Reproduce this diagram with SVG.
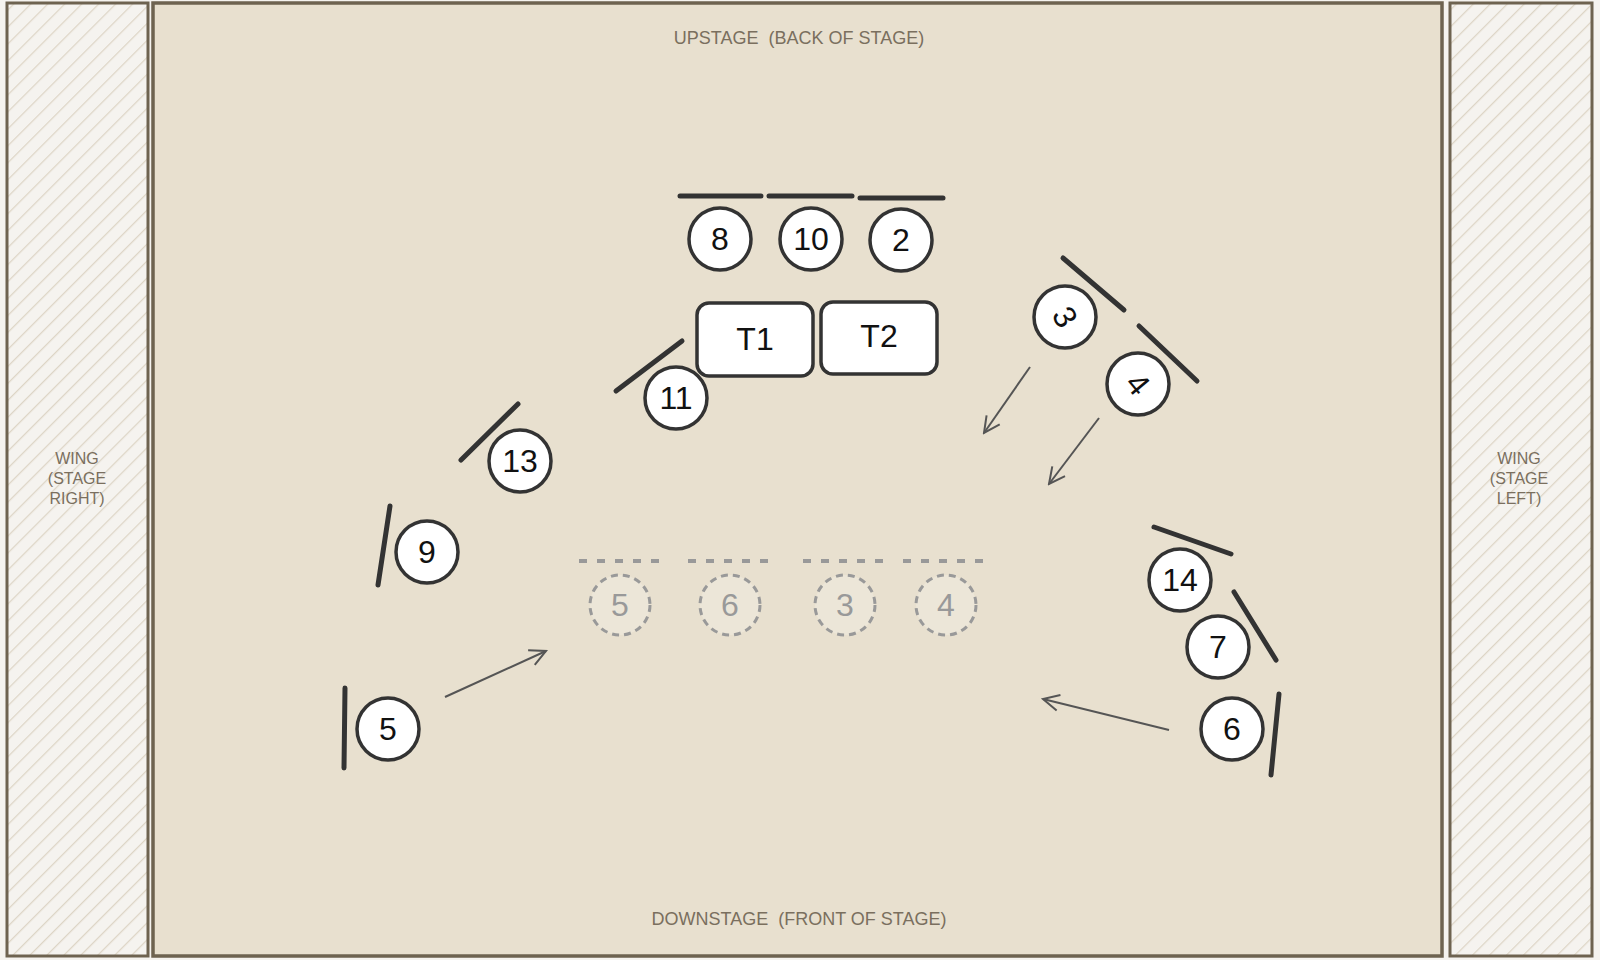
<svg xmlns="http://www.w3.org/2000/svg" width="1600" height="960" viewBox="0 0 1600 960">
<defs>
<pattern id="hatch" width="12" height="12" patternUnits="userSpaceOnUse" patternTransform="rotate(45)">
<rect width="12" height="12" fill="#f5f3ef"/><line x1="0" y1="0" x2="0" y2="12" stroke="#ddd5c6" stroke-width="2.5"/>
</pattern>
<marker id="ah" viewBox="0 0 20 20" refX="18" refY="10" markerWidth="20" markerHeight="20" markerUnits="userSpaceOnUse" orient="auto">
<path d="M2,2 L18,10 L2,18" fill="none" stroke="#555" stroke-width="2"/>
</marker>
<style>
.lbl{font-family:"Liberation Sans",Arial,sans-serif;fill:#7a6f5e;font-size:18px;text-anchor:middle;white-space:pre}
.wing{font-family:"Liberation Sans",Arial,sans-serif;fill:#7a6f5e;font-size:16px;text-anchor:middle}
.c{fill:#fff;stroke:#333;stroke-width:3.5}
.g{fill:#ece6d8;stroke:#999;stroke-width:3;stroke-dasharray:7 5}
.t{font-family:"Liberation Sans",Arial,sans-serif;font-size:32px;fill:#111;text-anchor:middle;dominant-baseline:central}
.gt{font-family:"Liberation Sans",Arial,sans-serif;font-size:32px;fill:#999;text-anchor:middle;dominant-baseline:central}
.bar{stroke:#333;stroke-width:5;stroke-linecap:round}
.gbar{stroke:#999;stroke-width:4;stroke-dasharray:8 10}
.arr{stroke:#555;stroke-width:2;fill:none;marker-end:url(#ah)}
</style>
</defs>
<rect width="1600" height="960" fill="#f5f3ef"/>
<rect x="7" y="3" width="141" height="953" fill="url(#hatch)" stroke="#6e6350" stroke-width="3"/>
<rect x="1450" y="3" width="142" height="953" fill="url(#hatch)" stroke="#6e6350" stroke-width="3"/>
<rect x="153" y="3" width="1289" height="953" fill="#e8e0cf" stroke="#6e6350" stroke-width="3.5"/>
<text class="lbl" x="799" y="44" xml:space="preserve">UPSTAGE  (BACK OF STAGE)</text>
<text class="lbl" x="799" y="925" xml:space="preserve">DOWNSTAGE  (FRONT OF STAGE)</text>
<text class="wing" x="77" y="464">WING</text><text class="wing" x="77" y="484">(STAGE</text><text class="wing" x="77" y="504">RIGHT)</text>
<text class="wing" x="1519" y="464">WING</text><text class="wing" x="1519" y="484">(STAGE</text><text class="wing" x="1519" y="504">LEFT)</text>
<g id="connectors">
<line class="arr" x1="1030" y1="367" x2="984" y2="433"/>
<line class="arr" x1="1099" y1="418" x2="1049" y2="484"/>
<line class="arr" x1="1169" y1="730" x2="1043" y2="699"/>
<line class="arr" x1="445" y1="697" x2="546" y2="651"/>
</g>
<g id="ghosts">
<line class="gbar" x1="579" y1="561" x2="663" y2="561"/><line class="gbar" x1="688" y1="561" x2="772" y2="561"/>
<line class="gbar" x1="803" y1="561" x2="888" y2="561"/><line class="gbar" x1="903" y1="561" x2="987" y2="561"/>
<g id="g5"><circle class="g" cx="620" cy="605" r="30"/><text class="gt" x="620" y="605">5</text></g>
<g id="g6"><circle class="g" cx="730" cy="605" r="30"/><text class="gt" x="730" y="605">6</text></g>
<g id="g3"><circle class="g" cx="845" cy="605" r="30"/><text class="gt" x="845" y="605">3</text></g>
<g id="g4"><circle class="g" cx="946" cy="605" r="30"/><text class="gt" x="946" y="605">4</text></g>
</g>
<g id="tables">
<g id="T1"><rect x="697" y="303" width="116" height="73" rx="12" fill="#fff" stroke="#333" stroke-width="3.5"/><text class="t" x="755" y="339">T1</text></g>
<g id="T2"><rect x="821" y="302" width="116" height="72" rx="12" fill="#fff" stroke="#333" stroke-width="3.5"/><text class="t" x="879" y="336">T2</text></g>
</g>
<g id="p8"><line class="bar" x1="680" y1="196" x2="761" y2="196"/><circle class="c" cx="720" cy="239" r="31"/><text class="t" x="720" y="239">8</text></g>
<g id="p10"><line class="bar" x1="769" y1="196" x2="852" y2="196"/><circle class="c" cx="811" cy="239" r="31"/><text class="t" x="811" y="239">10</text></g>
<g id="p2"><line class="bar" x1="860" y1="198" x2="943" y2="198"/><circle class="c" cx="901" cy="240" r="31"/><text class="t" x="901" y="240">2</text></g>
<g id="p11"><line class="bar" x1="616" y1="391" x2="682" y2="341"/><circle class="c" cx="676" cy="398" r="31"/><text class="t" x="676" y="398">11</text></g>
<g id="p13"><line class="bar" x1="461" y1="460" x2="518" y2="404"/><circle class="c" cx="520" cy="461" r="31"/><text class="t" x="520" y="461">13</text></g>
<g id="p9"><line class="bar" x1="378" y1="585" x2="390" y2="506"/><circle class="c" cx="427" cy="552" r="31"/><text class="t" x="427" y="552">9</text></g>
<g id="p5"><line class="bar" x1="344" y1="768" x2="345" y2="688"/><circle class="c" cx="388" cy="729" r="31"/><text class="t" x="388" y="729">5</text></g>
<g id="p3"><line class="bar" x1="1063" y1="258" x2="1124" y2="310"/><circle class="c" cx="1065" cy="317" r="31"/><text class="t" x="1065" y="317" transform="rotate(60 1065 317)">3</text></g>
<g id="p4"><line class="bar" x1="1139" y1="326" x2="1197" y2="381"/><circle class="c" cx="1138" cy="384" r="31"/><text class="t" x="1138" y="384" transform="rotate(50 1138 384)">4</text></g>
<g id="p14"><line class="bar" x1="1154" y1="527" x2="1231" y2="554"/><circle class="c" cx="1180" cy="580" r="31"/><text class="t" x="1180" y="580">14</text></g>
<g id="p7"><line class="bar" x1="1234" y1="592" x2="1276" y2="660"/><circle class="c" cx="1218" cy="647" r="31"/><text class="t" x="1218" y="647">7</text></g>
<g id="p6"><line class="bar" x1="1279" y1="694" x2="1271" y2="775"/><circle class="c" cx="1232" cy="729" r="31"/><text class="t" x="1232" y="729">6</text></g>
</svg>
